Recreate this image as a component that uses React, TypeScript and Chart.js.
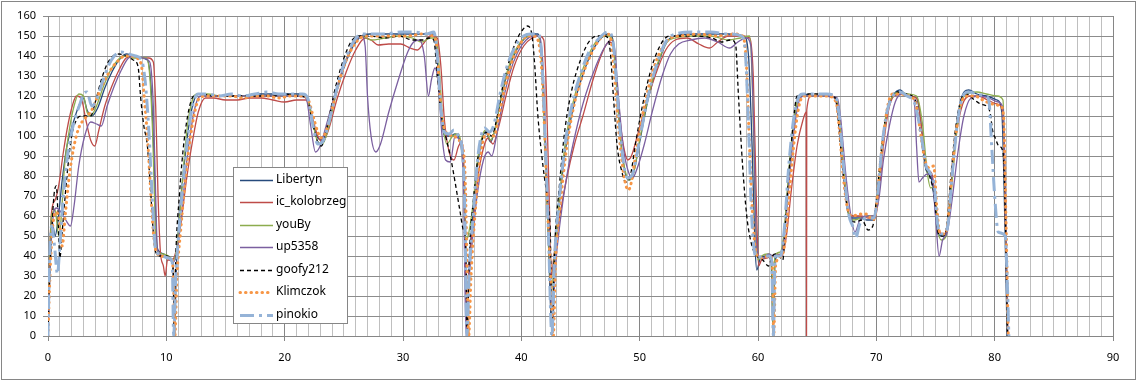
import React, { useEffect, useRef } from "react";
import { Chart, registerables } from "chart.js";
Chart.register(...registerables);

type P = [number, number];

const seriesNames = ["Libertyn", "ic_kolobrzeg", "youBy", "up5358", "goofy212", "Klimczok", "pinokio"];
const xTickLabels = ["0", "10", "20", "30", "40", "50", "60", "70", "80", "90"];
const yTickLabels = ["0", "10", "20", "30", "40", "50", "60", "70", "80", "90", "100", "110", "120", "130", "140", "150", "160"];

const libertyn: P[] = [[0,0],[0.15,30],[0.35,57],[0.6,50],[0.85,58],[1.2,78],[1.6,95],[2.1,106],[2.6,115],[3.0,119],[3.3,113],[3.7,110],[4.2,114],[4.8,124],[5.4,132],[6.0,138],[6.6,141],[7.2,140],[7.8,139],[8.4,138],[8.7,125],[8.95,90],[9.15,50],[9.3,43],[9.8,41],[10.3,39],[10.55,37],[10.68,0],[10.85,35],[11.1,60],[11.5,85],[11.9,105],[12.3,117],[12.7,121],[13.5,120],[14.5,120],[15.5,120],[16.5,120],[17.5,121],[18.5,121],[19.5,121],[20.5,121],[21.5,121],[22.0,118],[22.4,107],[22.8,99],[23.2,98],[23.7,106],[24.3,120],[25.0,134],[25.8,145],[26.5,150],[27.2,151],[28.5,151],[30,151],[31.5,151],[32.6,151],[32.9,138],[33.2,112],[33.5,100],[34.0,100],[34.4,101],[34.8,98],[35.1,85],[35.3,40],[35.42,0],[35.6,35],[35.9,60],[36.3,85],[36.7,99],[37.0,102],[37.4,97],[37.8,104],[38.3,119],[38.9,133],[39.6,143],[40.3,149],[40.9,151],[41.4,151],[41.7,140],[42.0,95],[42.3,45],[42.6,0],[42.8,35],[43.2,65],[43.7,92],[44.3,112],[45.0,127],[45.8,140],[46.6,148],[47.3,151],[47.7,149],[48.0,130],[48.4,98],[48.8,81],[49.1,78],[49.5,82],[50.0,97],[50.7,118],[51.5,135],[52.3,147],[53.0,150],[54.5,151],[56,151],[57.5,151],[58.8,150],[59.2,140],[59.5,95],[59.75,45],[59.9,33],[60.2,39],[60.7,40],[61.1,38],[61.28,0],[61.45,38],[61.9,41],[62.2,50],[62.6,80],[63.0,105],[63.4,119],[63.8,121],[64.8,120],[65.8,120],[66.5,119],[66.8,108],[67.2,82],[67.6,62],[68.0,59],[68.6,59],[69.2,58],[69.8,58],[70.1,68],[70.5,95],[70.9,112],[71.4,120],[72.0,123],[72.6,120],[73.4,119],[73.8,105],[74.2,83],[74.6,80],[74.9,68],[75.2,51],[75.6,50],[75.95,53],[76.3,75],[76.7,100],[77.1,117],[77.8,123],[78.5,121],[79.3,120],[80.2,118],[80.6,112],[80.85,60],[81.05,0]];

const icKolobrzeg: P[] = [[0,0],[0.12,35],[0.3,62],[0.6,68],[0.9,75],[1.3,92],[1.7,106],[2.1,116],[2.4,120],[2.8,119],[3.2,108],[3.6,98],[3.95,95],[4.3,103],[4.8,115],[5.4,125],[6.0,133],[6.6,139],[7.2,140],[7.8,139],[8.5,139],[8.9,137],[9.1,115],[9.3,70],[9.5,42],[9.75,35],[9.9,30],[10.1,38],[10.5,38],[10.8,42],[11.2,55],[11.7,78],[12.2,97],[12.7,112],[13.3,119],[14,119],[15,118],[16,118],[17,119],[18,119],[19,118],[20,117],[21,118],[21.8,118],[22.3,110],[22.8,100],[23.2,97],[23.7,103],[24.4,118],[25.2,132],[26.0,143],[26.8,149],[27.3,148],[27.9,145.5],[28.8,146],[29.8,146],[30.6,144],[31.2,143],[31.7,146],[32.3,150],[32.9,149],[33.2,135],[33.5,108],[33.9,92],[34.3,88],[34.7,95],[35.0,97],[35.2,75],[35.38,0],[35.55,30],[35.9,55],[36.4,82],[36.9,96],[37.2,99],[37.6,96],[38.1,105],[38.7,120],[39.4,135],[40.2,145],[40.9,149],[41.5,150],[41.9,148],[42.1,125],[42.35,70],[42.55,30],[42.75,40],[43.2,58],[43.8,78],[44.5,96],[45.2,110],[46.1,129],[46.8,141],[47.4,147],[47.8,145],[48.1,125],[48.4,105],[48.7,93],[49.0,88],[49.3,90],[49.8,100],[50.5,115],[51.3,130],[52.2,143],[53.0,148],[54,149],[55,146],[55.9,144],[56.6,147],[57.5,150],[58.6,150],[59.3,149],[59.6,130],[59.85,70],[60.05,35],[60.3,38],[60.8,39],[61.2,40],[61.6,41],[62.0,40],[62.4,50],[62.8,72],[63.3,95],[63.8,108],[64.08,112],[64.1,0],[64.12,113],[64.5,120],[65.5,120],[66.5,119],[66.9,105],[67.3,78],[67.7,61],[68.1,60],[68.7,60],[69.3,59],[69.9,59],[70.2,70],[70.6,95],[71.0,112],[71.5,120],[72.2,121],[72.9,120],[73.5,118],[73.9,100],[74.3,84],[74.7,81],[75.0,68],[75.3,52],[75.7,51],[76.0,55],[76.4,78],[76.8,102],[77.3,116],[77.9,120],[78.6,120],[79.4,118],[80.2,116],[80.7,112],[80.9,60],[81.1,0]];

const youBy: P[] = [[0,0],[0.1,30],[0.3,60],[0.6,63],[0.9,50],[1.1,58],[1.4,85],[1.8,103],[2.2,115],[2.6,121],[3.0,120],[3.3,112],[3.6,110],[4.1,115],[4.7,125],[5.3,133],[5.9,138],[6.5,140],[7.1,139],[7.7,139],[8.3,139],[8.6,130],[8.85,100],[9.05,60],[9.2,43],[9.7,41],[10.2,40],[10.6,38],[10.9,45],[11.2,65],[11.5,88],[11.8,106],[12.2,118],[12.6,121],[13.5,121],[14.5,120],[15.5,120],[16.5,120],[17.5,120],[18.5,120],[19.5,120],[20.5,120],[21.5,120],[22.0,117],[22.4,106],[22.8,97],[23.2,96],[23.7,104],[24.3,120],[25.0,135],[25.8,146],[26.5,150],[27.3,148],[28.5,149],[29.7,150],[30.8,149],[31.6,147],[32.3,149],[32.8,149],[33.05,135],[33.35,108],[33.7,96],[34.2,100],[34.6,101],[34.9,96],[35.15,75],[35.3,48],[35.5,50],[35.9,65],[36.3,88],[36.7,100],[37.0,103],[37.4,98],[37.8,104],[38.3,120],[38.9,134],[39.6,144],[40.3,149],[40.9,150],[41.4,150],[41.7,138],[42.0,92],[42.3,48],[42.55,22],[42.8,40],[43.2,68],[43.7,96],[44.3,115],[45.0,130],[45.8,142],[46.6,149],[47.3,150],[47.7,148],[48.0,128],[48.4,97],[48.8,82],[49.1,78],[49.5,82],[50.0,98],[50.7,119],[51.5,136],[52.3,147],[53.0,149],[54.5,150],[56,150],[57.5,148],[58.5,149],[59.3,150],[59.55,120],[59.8,55],[60.0,38],[60.3,40],[60.8,41],[61.15,40],[61.27,0],[61.42,40],[61.9,42],[62.2,52],[62.6,82],[63.0,106],[63.4,119],[63.8,120],[64.8,120],[65.8,120],[66.6,119],[66.9,108],[67.3,80],[67.7,60],[68.1,58],[68.7,59],[69.3,60],[69.8,60],[70.1,70],[70.5,96],[70.9,113],[71.4,120],[72.0,122],[72.7,121],[73.4,120],[73.9,106],[74.3,82],[74.6,74],[74.9,75],[75.15,55],[75.5,48],[75.9,50],[76.3,70],[76.7,98],[77.1,115],[77.7,121],[78.5,122],[79.3,121],[80.2,120],[80.7,118],[80.9,70],[81.1,0]];

const up5358: P[] = [[0,0],[0.15,32],[0.4,58],[0.7,64],[1.1,62],[1.5,58],[1.9,55],[2.2,65],[2.6,85],[3.1,100],[3.6,107],[4.1,106],[4.5,105],[5.0,115],[5.6,125],[6.2,133],[6.8,139],[7.4,140],[8.0,139],[8.6,137],[8.9,115],[9.1,70],[9.25,43],[9.8,40],[10.3,38],[10.6,37],[10.9,42],[11.3,62],[11.7,86],[12.1,104],[12.5,116],[12.9,120],[13.8,120],[15,120],[16,120],[17,120],[18,120],[19,120],[20,120],[21,120],[21.8,119],[22.2,105],[22.6,92],[23.0,95],[23.5,105],[24.2,120],[25.0,135],[25.8,146],[26.5,150],[26.8,145],[27.0,120],[27.3,100],[27.7,92],[28.1,96],[28.8,112],[29.6,128],[30.4,142],[30.9,147],[31.4,148],[31.8,140],[32.15,120],[32.4,128],[32.7,134],[33.0,125],[33.3,100],[33.6,88],[34.0,87],[34.4,100],[34.8,97],[35.1,78],[35.33,0],[35.55,25],[35.9,50],[36.3,72],[36.8,88],[37.2,92],[37.5,90],[37.9,100],[38.4,116],[39.0,131],[39.7,142],[40.4,148],[41.0,150],[41.5,150],[41.8,138],[42.1,90],[42.4,45],[42.62,5],[42.85,32],[43.3,58],[43.9,82],[44.6,102],[45.4,120],[46.3,135],[47.0,144],[47.6,148],[47.9,143],[48.2,120],[48.6,95],[49.0,83],[49.4,79],[49.8,84],[50.4,96],[51.1,113],[51.9,130],[52.6,141],[53.3,146],[54.3,148],[55.5,149],[56.6,147],[57.6,144],[58.3,147],[59.0,149],[59.4,145],[59.65,100],[59.85,50],[60.05,40],[60.5,39],[60.9,41],[61.3,40],[61.8,40],[62.2,48],[62.6,75],[63.0,100],[63.4,116],[63.9,120],[64.8,120],[65.8,120],[66.7,119],[67.0,108],[67.4,82],[67.8,62],[68.2,52],[68.6,58],[69.2,60],[69.8,60],[70.2,68],[70.6,88],[71.1,105],[71.6,117],[72.1,121],[72.7,120],[73.2,118],[73.4,95],[73.6,77],[73.9,79],[74.3,81],[74.7,80],[75.0,60],[75.3,40],[75.6,48],[76.0,52],[76.4,68],[76.9,92],[77.4,110],[78.0,119],[78.7,120],[79.5,119],[80.3,117],[80.7,114],[80.95,60],[81.12,0]];

const goofy212: P[] = [[0,0],[0.1,22],[0.3,50],[0.5,70],[0.7,75],[0.85,60],[1.0,39],[1.2,52],[1.6,80],[2.0,100],[2.4,108],[2.8,110],[3.2,110],[3.6,110],[4.0,117],[4.5,128],[5.0,136],[5.5,140],[6.0,141],[6.6,140],[7.2,138],[7.6,135],[7.85,118],[8.1,105],[8.4,95],[8.7,70],[8.95,48],[9.1,42],[9.5,40],[10.0,40],[10.4,39],[10.6,30],[10.65,0],[10.8,40],[11.1,70],[11.4,92],[11.8,110],[12.3,120],[13,121],[14,120],[15,120],[16,120],[17,120],[18,120],[19,120],[20,121],[21,120],[21.9,119],[22.3,108],[22.8,97],[23.1,95],[23.6,105],[24.2,122],[24.9,137],[25.6,147],[26.3,150],[27.2,150],[28.5,149],[29.7,150],[30.8,148],[31.6,148],[32.2,149],[32.6,148],[32.9,130],[33.2,112],[33.6,100],[34.0,90],[34.4,77],[34.8,63],[35.1,53],[35.3,46],[35.42,0],[35.6,40],[35.95,68],[36.4,92],[36.8,100],[37.1,102],[37.5,100],[37.9,108],[38.4,124],[39.0,138],[39.6,148],[40.1,153],[40.5,155],[40.85,152],[41.1,138],[41.4,110],[41.85,84],[42.2,68],[42.45,50],[42.6,0],[42.8,42],[43.2,74],[43.7,104],[44.3,124],[45.0,138],[45.7,147],[46.4,150],[47.1,150],[47.5,143],[47.8,118],[48.1,95],[48.5,82],[48.8,77],[49.2,80],[49.7,98],[50.3,117],[51.0,134],[51.8,146],[52.5,150],[53.5,150],[54.8,150],[56.1,149],[56.9,147],[57.7,148],[58.1,146],[58.35,120],[58.7,85],[59.05,60],[59.3,50],[59.6,43],[59.9,40],[60.4,38],[60.9,35],[61.2,40],[61.6,41],[62.1,38],[62.3,55],[62.7,88],[63.0,108],[63.3,120],[64.0,121],[65,121],[66.0,121],[66.6,118],[66.9,100],[67.3,75],[67.7,60],[68.2,57],[68.8,58],[69.3,53],[69.7,55],[70.0,68],[70.4,92],[70.8,110],[71.3,120],[71.8,122],[72.5,121],[73.3,118],[73.7,103],[74.1,86],[74.5,80],[74.9,70],[75.2,52],[75.6,50],[75.95,55],[76.3,80],[76.7,104],[77.1,117],[77.6,121],[78.3,118],[78.8,116],[79.3,115],[79.6,112],[79.85,102],[80.05,99],[80.35,95],[80.7,92],[80.9,60],[81.08,0]];

const klimczok: P[] = [[0,0],[0.05,10],[0.2,35],[0.4,55],[0.7,62],[0.95,58],[1.2,45],[1.45,60],[1.8,80],[2.2,95],[2.6,104],[3.0,108],[3.3,110],[3.7,113],[4.2,120],[4.8,128],[5.4,134],[6.0,138],[6.5,140],[7.0,140],[7.5,139],[7.9,135],[8.15,118],[8.4,100],[8.65,75],[8.9,52],[9.15,42],[9.6,40],[10.1,39],[10.5,38],[10.62,25],[10.72,0],[10.9,30],[11.2,52],[11.6,78],[12.0,98],[12.4,112],[12.8,119],[13.5,120],[14.5,120],[15.5,120],[16.5,119],[17.5,120],[18.5,120],[19.5,119],[20.5,120],[21.5,120],[22.0,118],[22.4,110],[22.8,102],[23.1,99],[23.6,104],[24.2,118],[24.9,133],[25.7,144],[26.4,149],[26.9,150],[28,150],[29.2,150],[30.4,150],[31.6,151],[32.5,150],[32.85,145],[33.1,122],[33.4,106],[33.8,101],[34.3,100],[34.7,98],[35.0,95],[35.25,80],[35.4,40],[35.55,0],[35.75,30],[36.1,62],[36.5,88],[36.9,100],[37.3,101],[37.7,100],[38.1,110],[38.6,124],[39.2,137],[39.9,146],[40.5,150],[41.0,150],[41.4,148],[41.7,135],[41.95,105],[42.2,65],[42.45,35],[42.7,0],[42.9,38],[43.3,66],[43.8,93],[44.4,114],[45.1,129],[45.9,141],[46.7,149],[47.3,151],[47.6,147],[47.9,128],[48.2,105],[48.55,85],[48.85,75],[49.05,73],[49.3,77],[49.7,92],[50.3,112],[51.0,130],[51.8,143],[52.6,149],[53.4,150],[55,151],[56.5,150],[58,151],[58.7,150],[59.0,138],[59.25,100],[59.5,65],[59.75,45],[59.95,40],[60.4,39],[60.9,40],[61.2,38],[61.33,0],[61.5,36],[62.0,40],[62.3,48],[62.7,75],[63.1,100],[63.5,116],[63.9,120],[64.8,120],[65.8,120],[66.6,117],[66.85,105],[67.2,80],[67.6,63],[68.0,60],[68.6,61],[69.2,61],[69.7,58],[69.95,62],[70.2,78],[70.6,100],[71.0,116],[71.4,121],[72.0,121],[72.7,120],[73.3,117],[73.7,103],[74.1,88],[74.5,84],[74.85,85],[75.1,65],[75.35,52],[75.7,51],[76.0,55],[76.3,75],[76.7,100],[77.1,115],[77.6,120],[78.3,120],[79.0,118],[79.8,116],[80.5,115],[80.75,110],[80.95,60],[81.15,0]];

const pinokio: P[] = [[0,0],[0.1,30],[0.3,55],[0.55,45],[0.8,31],[1.0,45],[1.3,70],[1.7,92],[2.2,107],[2.7,116],[3.0,121],[3.3,122],[3.7,115],[4.1,118],[4.6,127],[5.1,135],[5.6,140],[6.2,142],[6.8,141],[7.4,140],[7.9,138],[8.2,128],[8.5,105],[8.8,70],[9.05,45],[9.2,42],[9.7,40],[10.2,39],[10.5,37],[10.62,0],[10.8,30],[11.1,55],[11.5,82],[11.9,104],[12.3,117],[12.7,121],[13.5,121],[14.5,120],[15.5,121],[16.5,120],[17.5,121],[18.5,122],[19.5,121],[20.5,121],[21.5,121],[22.0,118],[22.4,105],[22.8,96],[23.2,97],[23.7,106],[24.3,121],[25.0,136],[25.8,147],[26.5,151],[27.3,151],[28.5,151],[29.8,152],[31.0,152],[32.0,151],[32.6,152],[32.9,140],[33.2,114],[33.5,102],[33.9,101],[34.3,103],[34.7,100],[35.0,93],[35.2,70],[35.4,0],[35.6,32],[35.95,62],[36.3,88],[36.6,100],[36.9,104],[37.3,102],[37.7,106],[38.2,121],[38.8,135],[39.5,145],[40.2,150],[40.8,151],[41.4,151],[41.7,142],[42.0,100],[42.3,50],[42.58,0],[42.8,38],[43.2,68],[43.7,96],[44.3,116],[45.0,131],[45.8,143],[46.6,149],[47.3,152],[47.7,149],[48.0,130],[48.35,102],[48.7,84],[49.0,79],[49.4,81],[49.9,95],[50.6,117],[51.4,135],[52.2,147],[53.0,151],[54.5,152],[56.0,152],[57.5,151],[58.6,150],[58.95,140],[59.2,105],[59.45,62],[59.7,42],[59.95,39],[60.4,40],[60.9,40],[61.15,38],[61.3,0],[61.45,40],[61.9,40],[62.2,52],[62.6,85],[63.0,108],[63.4,119],[63.8,121],[64.8,121],[65.8,121],[66.6,119],[66.9,108],[67.3,80],[67.7,60],[68.0,55],[68.25,49],[68.6,56],[69.2,59],[69.8,59],[70.1,70],[70.5,96],[70.9,112],[71.4,120],[72.0,122],[72.6,120],[73.2,117],[73.5,110],[73.8,100],[74.2,85],[74.5,82],[74.9,75],[75.2,55],[75.6,51],[76.0,54],[76.4,80],[76.8,104],[77.2,118],[77.8,122],[78.5,121],[79.2,120],[79.5,118],[79.75,95],[80.0,70],[80.3,52],[80.9,50],[81.05,30],[81.2,0]];

const seriesData: P[][] = [libertyn, icKolobrzeg, youBy, up5358, goofy212, klimczok, pinokio];

const seriesStyles = [
  { color: "#264A7C", width: 1.3, dash: [] as number[], cap: "butt" },
  { color: "#BE4B48", width: 1.3, dash: [] as number[], cap: "butt" },
  { color: "#8CAC4E", width: 1.3, dash: [] as number[], cap: "butt" },
  { color: "#7B5FA0", width: 1.3, dash: [] as number[], cap: "butt" },
  { color: "#000000", width: 1.3, dash: [4, 3], cap: "butt" },
  { color: "#F79646", width: 3, dash: [0.5, 5], cap: "round" },
  { color: "#95B3D7", width: 3, dash: [14, 5, 3, 5], cap: "butt" },
];

const FONT = "'Noto Sans', 'DejaVu Sans', sans-serif";

const framePlugin = {
  id: "frame",
  beforeDraw(chart: any) {
    const ctx = chart.ctx;
    ctx.save();
    ctx.fillStyle = "#ffffff";
    ctx.fillRect(0, 0, chart.width, chart.height);
    ctx.strokeStyle = "#868686";
    ctx.lineWidth = 1;
    ctx.strokeRect(1.5, 1.5, chart.width - 3, chart.height - 3);
    ctx.restore();
  },
  afterDraw(chart: any) {
    const ctx = chart.ctx;
    const bx = 233, by = 167, bw = 114, bh = 156;
    ctx.save();
    ctx.fillStyle = "#ffffff";
    ctx.fillRect(bx, by, bw, bh);
    ctx.strokeStyle = "#868686";
    ctx.lineWidth = 1;
    ctx.setLineDash([]);
    ctx.strokeRect(bx + 0.5, by + 0.5, bw, bh);
    chart.data.datasets.forEach((ds: any, i: number) => {
      const cy = 179.5 + i * 22.5;
      ctx.beginPath();
      ctx.strokeStyle = ds.borderColor;
      ctx.lineWidth = ds.borderWidth;
      ctx.setLineDash(ds.borderDash || []);
      ctx.lineCap = ds.borderCapStyle || "butt";
      ctx.moveTo(240, Math.round(cy) + 0.5);
      ctx.lineTo(273, Math.round(cy) + 0.5);
      ctx.stroke();
      ctx.setLineDash([]);
      ctx.fillStyle = "#000000";
      ctx.font = `12px ${FONT}`;
      ctx.textBaseline = "middle";
      ctx.textAlign = "left";
      ctx.fillText(ds.label, 276, cy);
    });
    ctx.restore();
  },
};

export default function App() {
  const ref = useRef<HTMLCanvasElement | null>(null);
  useEffect(() => {
    if (!ref.current) return;
    const chart = new Chart(ref.current, {
      type: "line",
      data: {
        datasets: seriesData.map((arr, i) => ({
          label: seriesNames[i],
          data: arr.map(([x, y]) => ({ x, y })),
          borderColor: seriesStyles[i].color,
          backgroundColor: seriesStyles[i].color,
          borderWidth: seriesStyles[i].width,
          borderDash: seriesStyles[i].dash,
          borderCapStyle: seriesStyles[i].cap as any,
          pointRadius: 0,
          pointHoverRadius: 0,
          fill: false,
          cubicInterpolationMode: "monotone" as const,
          order: seriesNames.length - 1 - i,
        })),
      },
      options: {
        animation: false,
        responsive: false,
        maintainAspectRatio: false,
        events: [],
        layout: { padding: { left: 0, right: 24, top: 16, bottom: 0 } },
        plugins: { legend: { display: false }, tooltip: { enabled: false }, title: { display: false } },
        scales: {
          x: {
            type: "linear",
            min: 0,
            max: 90,
            afterFit: (s: any) => { s.height = 45; },
            ticks: {
              stepSize: 1,
              autoSkip: false,
              maxRotation: 0,
              padding: 10,
              color: "#000000",
              font: { family: FONT, size: 11 },
              callback: (v: any) => (Number(v) % 10 === 0 ? xTickLabels[Number(v) / 10] : ""),
            },
            grid: {
              color: (c: any) => (c.tick && c.tick.value % 10 === 0 ? "#868686" : "#BFBFBF"),
              tickColor: (c: any) => (c.tick && c.tick.value % 10 === 0 ? "#868686" : "rgba(0,0,0,0)"),
              tickLength: 5,
              lineWidth: 1,
            },
            border: { display: true, color: "#868686", width: 1 },
          },
          y: {
            type: "linear",
            min: 0,
            max: 160,
            afterFit: (s: any) => { s.width = 48; },
            ticks: {
              stepSize: 10,
              padding: 7,
              color: "#000000",
              font: { family: FONT, size: 11 },
              callback: (v: any) => yTickLabels[Math.round(Number(v) / 10)],
            },
            grid: { color: "#8C8C8C", tickLength: 5, lineWidth: 1 },
            border: { display: true, color: "#868686", width: 1 },
          },
        },
      },
      plugins: [framePlugin],
    });
    return () => chart.destroy();
  }, []);
  return (
    <div style={{ position: "absolute", left: 0, top: 0, width: 1137, height: 381, background: "#fff" }}>
      <canvas ref={ref} width={1137} height={381} style={{ display: "block", width: 1137, height: 381 }} />
    </div>
  );
}
